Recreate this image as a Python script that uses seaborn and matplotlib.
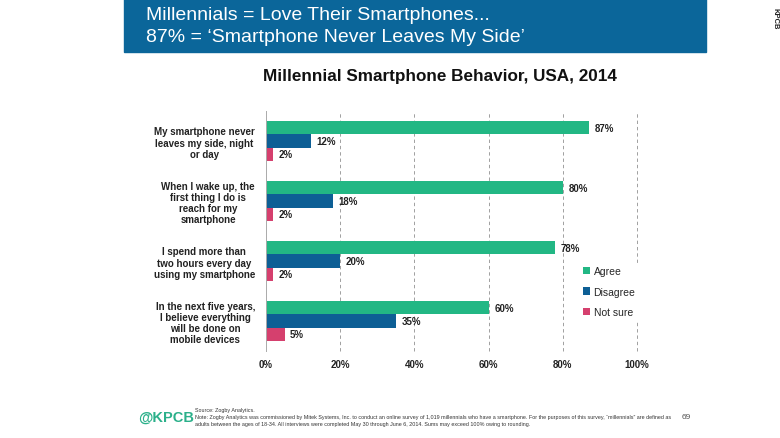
import matplotlib
matplotlib.use("Agg")
import matplotlib.pyplot as plt
import seaborn as sns
import pandas as pd
from matplotlib.patches import Rectangle

categories = [
    "My smartphone never\nleaves my side, night\nor day",
    "When I wake up, the\nfirst thing I do is\nreach for my\nsmartphone",
    "I spend more than\ntwo hours every day\nusing my smartphone",
    "In the next five years,\nI believe everything\nwill be done on\nmobile devices",
]
responses = ["Agree", "Disagree", "Not sure"]
agree = [87, 80, 78, 60]
disagree = [12, 18, 20, 35]
not_sure = [2, 2, 2, 5]
xticks = [0, 20, 40, 60, 80, 100]
xtick_labels = ["0%", "20%", "40%", "60%", "80%", "100%"]
colors = ["#22b784", "#0d5f95", "#d5406e"]

rows = []
for i, c in enumerate(categories):
    for r, vals in zip(responses, [agree, disagree, not_sure]):
        rows.append({"Statement": c, "Response": r, "Value": vals[i]})
df = pd.DataFrame(rows)

sns.set_theme(style="white")
plt.rcParams["font.family"] = ["Liberation Sans", "DejaVu Sans"]

fig = plt.figure(figsize=(7.8, 4.39), dpi=100)
ax = fig.add_axes([266/780, 1-352/439, (637-266)/780, (352-112)/439])

sns.barplot(data=df, y="Statement", x="Value", hue="Response", orient="h",
            order=categories, hue_order=responses, palette=colors,
            width=0.667, ax=ax, saturation=1, edgecolor="none", errorbar=None)

for cont in ax.containers:
    labels = [f"{int(round(v))}%" for v in cont.datavalues]
    ax.bar_label(cont, labels=labels, padding=4, fontsize=7, fontweight="bold", color="#222222")

ax.set_xlim(0, 100)
ax.set_ylim(len(categories) - 0.5, -0.5)
ax.set_xticks(xticks)
ax.set_xticklabels(xtick_labels, fontsize=7, fontweight="bold", color="#222222")
ax.set_xlabel("")
ax.set_ylabel("")
for x in xticks[1:]:
    ax.axvline(x, color="#a0a0a0", lw=0.7, ls=(0, (3.5, 3)), zorder=0, clip_on=False)

ax.set_yticks(range(len(categories)))
ax.set_yticklabels(categories, fontsize=7, fontweight="bold", color="#222222",
                   multialignment="center", linespacing=1.15)
ax.set_yticks([i - 0.5 for i in range(len(categories) + 1)], minor=True)
ax.tick_params(axis="y", which="major", length=0, pad=8)
ax.tick_params(axis="y", which="minor", length=4, color="#aaaaaa", width=0.7, direction="out")
ax.tick_params(axis="x", length=0, pad=6)
for s in ["top", "right", "bottom"]:
    ax.spines[s].set_visible(False)
ax.spines["left"].set_color("#aaaaaa")
ax.spines["left"].set_linewidth(0.7)

leg = ax.legend(loc="upper left", bbox_to_anchor=((580-266)/371, (352-264)/240),
                frameon=True, fontsize=7.5, handlelength=0.7, handleheight=0.7,
                handletextpad=0.3, labelspacing=1.0, borderaxespad=0, borderpad=0.3)
leg.get_frame().set_edgecolor("white")
leg.get_frame().set_facecolor("white")
leg.get_frame().set_alpha(1)
leg.set_zorder(5)

# Banner
fig.patches.append(Rectangle((124/780, 1-53/439), (706-124)/780, 53/439,
                             transform=fig.transFigure, color="#0b669a", zorder=0))
fig.text(146/780, 1-16/439, "Millennials = Love Their Smartphones...", color="white",
         fontsize=14, va="center", ha="left")
fig.text(146/780, 1-38/439, "87% = \u2018Smartphone Never Leaves My Side\u2019", color="white",
         fontsize=14, va="center", ha="left")
fig.text(775/780, 1-19/439, "KPCB", rotation=270, fontsize=5.5, color="#222222",
         ha="center", va="center", fontweight="bold")

fig.text(440/780, 1-77/439, "Millennial Smartphone Behavior, USA, 2014", fontsize=12.3,
         fontweight="bold", ha="center", va="center", color="#111111")

# Footer
fig.text(138/780, 1-418/439, "@KPCB", fontsize=10.5, color="#2bb08a", ha="left", va="center",
         fontweight="bold")
fig.text(195/780, 1-411/439, "Source: Zogby Analytics.", fontsize=3.9, color="#333333",
         ha="left", va="center")
fig.text(195/780, 1-421/439,
         "Note: Zogby Analytics was commissioned by Mitek Systems, Inc. to conduct an online survey of 1,019 millennials who have a smartphone. For the purposes of this survey, \u201cmillennials\u201d are defined as\n"
         "adults between the ages of 18-34. All interviews were completed May 30 through June 6, 2014. Sums may exceed 100% owing to rounding.",
         fontsize=3.9, color="#333333", ha="left", va="center", linespacing=1.3)
fig.text(686/780, 1-418/439, "69", fontsize=6, color="#555555", ha="center", va="center")

fig.savefig("out.png", dpi=100)
